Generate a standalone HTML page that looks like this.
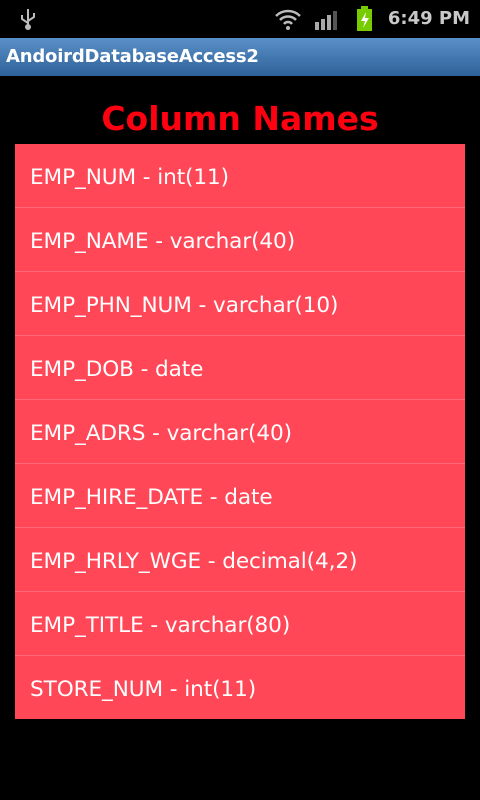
<!DOCTYPE html>
<html><head><style>
body{margin:0;width:480px;height:800px;background:#000;overflow:hidden;font-family:"DejaVu Sans","Liberation Sans",sans-serif;position:relative}
.sb{position:absolute;top:0;left:0;width:480px;height:38px;background:#000}
.time{position:absolute;right:10px;top:8px;color:#c8c8c8;font-weight:bold;font-size:18px}
.tb{position:absolute;top:38px;left:0;width:480px;height:38px;background:linear-gradient(#5a90c8,#2e6198);}
.tb span{position:absolute;left:6px;top:8px;color:#fff;font-weight:bold;font-size:18px;letter-spacing:-0.2px}
h1{position:absolute;top:97px;left:0;width:480px;margin:0;text-align:center;color:#ff0010;font-size:33px;font-weight:bold;line-height:44px}
.list{position:absolute;left:15px;top:144px;width:450px;height:575px;background:#ff4757}
.row{height:63px;border-bottom:1px solid #ff6a76;color:#fff;font-size:21.6px;line-height:68px;padding-left:15px;letter-spacing:-0.1px}
.row:last-child{border-bottom:none}
</style></head><body>
<div class="sb">
<svg style="position:absolute;left:18px;top:7px" width="20" height="24"><path d="M10 2v18M4 8v4l6 4M16 6v4l-6 4" stroke="#bbb" stroke-width="2" fill="none"/><circle cx="10" cy="20" r="3" fill="#bbb"/></svg>
<svg style="position:absolute;left:274px;top:8px" width="28" height="22"><path d="M2 8a17 17 0 0 1 24 0M6 12a11 11 0 0 1 16 0M10 16a5 5 0 0 1 8 0" stroke="#bbb" stroke-width="2.5" fill="none"/><circle cx="14" cy="20" r="2" fill="#bbb"/></svg>
<svg style="position:absolute;left:314px;top:9px" width="26" height="22"><rect x="1" y="13" width="4" height="8" fill="#aaa"/><rect x="7" y="10" width="4" height="11" fill="#aaa"/><rect x="13" y="6" width="4" height="15" fill="#aaa"/><rect x="19" y="2" width="4" height="19" fill="#555"/></svg>
<svg style="position:absolute;left:355px;top:6px" width="20" height="26"><rect x="6" y="0" width="7" height="3" fill="#7c0"/><rect x="2" y="3" width="15" height="22" fill="#7c0"/><path d="M11 6l-5 9h4l-2 7 6-10h-4z" fill="#fff"/></svg>
<div class="time">6:49 PM</div>
</div>
<div class="tb"><span>AndoirdDatabaseAccess2</span></div>
<h1>Column Names</h1>
<div class="list">
<div class="row">EMP_NUM - int(11)</div>
<div class="row">EMP_NAME - varchar(40)</div>
<div class="row">EMP_PHN_NUM - varchar(10)</div>
<div class="row">EMP_DOB - date</div>
<div class="row">EMP_ADRS - varchar(40)</div>
<div class="row">EMP_HIRE_DATE - date</div>
<div class="row">EMP_HRLY_WGE - decimal(4,2)</div>
<div class="row">EMP_TITLE - varchar(80)</div>
<div class="row">STORE_NUM - int(11)</div>
</div>
</body></html>
